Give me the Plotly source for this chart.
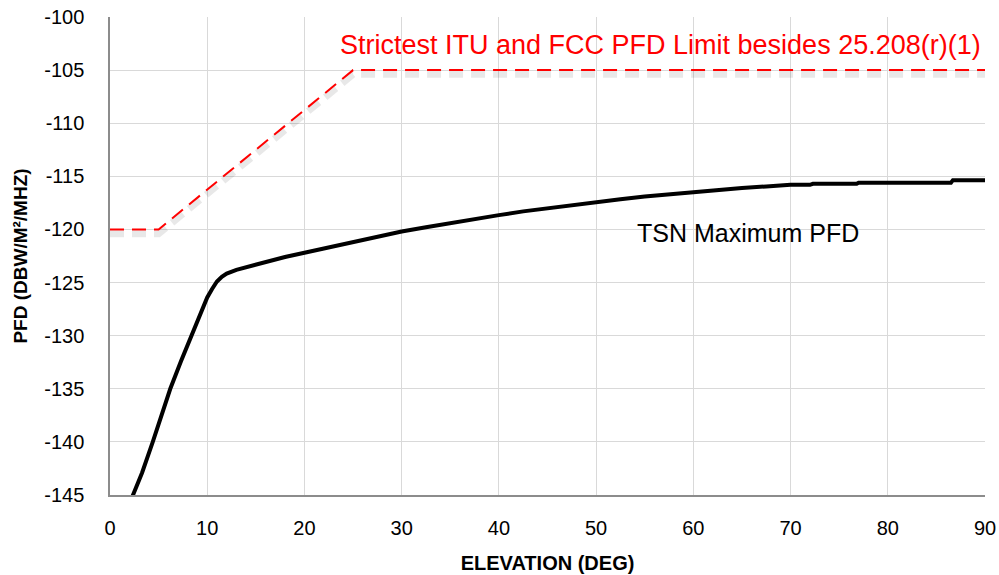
import plotly.graph_objects as go

# TSN maximum PFD curve (elevation deg, PFD dBW/m^2/MHz)
tsn_elev = [2.1, 3.3, 4.4, 5.3, 6.2, 7.3, 8.4, 9.0, 9.5, 10.0, 10.5, 11.0, 11.5, 12.0,
            13.0, 14.0, 16.0, 18.0, 20.0, 22.5, 25.0, 27.5, 30.0, 32.5, 35.0, 37.5,
            40.0, 42.5, 45.0, 47.5, 50.0, 52.5, 55.0, 57.5, 60.0, 62.5, 65.0, 67.5,
            70.0, 72.0, 72.3, 76.8, 77.0, 86.5, 86.7, 90.0]
tsn_pfd = [-145.6, -142.9, -140.0, -137.5, -135.0, -132.4, -130.0, -128.6, -127.5, -126.4,
           -125.6, -124.9, -124.45, -124.15, -123.8, -123.55, -123.05, -122.6, -122.2,
           -121.7, -121.2, -120.7, -120.2, -119.8, -119.4, -119.0, -118.65, -118.3,
           -118.0, -117.7, -117.4, -117.15, -116.9, -116.7, -116.45, -116.25, -116.1,
           -115.95, -115.8, -115.8, -115.7, -115.7, -115.6, -115.6, -115.36, -115.36]

# Strictest ITU and FCC PFD limit
lim_elev = [0, 5, 25, 90]
lim_pfd = [-120, -120, -105, -105]

x_ticks = [0, 10, 20, 30, 40, 50, 60, 70, 80, 90]
y_ticks = [-100, -105, -110, -115, -120, -125, -130, -135, -140, -145]

fig = go.Figure()

# soft shadow under the red dashed limit line
fig.add_trace(go.Scatter(x=lim_elev, y=[v - 0.4 for v in lim_pfd], mode="lines",
                         line=dict(color="rgba(0,0,0,0.09)", width=7, dash="14px,8px"),
                         hoverinfo="skip", showlegend=False))
fig.add_trace(go.Scatter(x=lim_elev, y=lim_pfd, mode="lines",
                         line=dict(color="#ff0000", width=2, dash="14px,8px"),
                         name="Strictest ITU and FCC PFD Limit", showlegend=False))
fig.add_trace(go.Scatter(x=tsn_elev, y=tsn_pfd, mode="lines",
                         line=dict(color="#000000", width=4),
                         name="TSN Maximum PFD", showlegend=False))

fig.add_annotation(x=56.6, y=-102.6, xref="x", yref="y",
                   text="Strictest ITU and FCC PFD Limit besides 25.208(r)(1)",
                   showarrow=False, font=dict(family="Liberation Sans, Arial", size=27, color="#ff0000"))
fig.add_annotation(x=65.6, y=-120.3, xref="x", yref="y",
                   text="TSN Maximum PFD",
                   showarrow=False, font=dict(family="Liberation Sans, Arial", size=25, color="#000000"))

fig.update_layout(
    width=999, height=575,
    margin=dict(l=110, r=14, t=17, b=80),
    paper_bgcolor="white", plot_bgcolor="white",
    font=dict(family="Liberation Sans, Arial", color="#000000"),
    xaxis=dict(range=[0, 90], tickvals=x_ticks, ticktext=[str(v) for v in x_ticks],
               showgrid=True, gridcolor="#d9d9d9", gridwidth=1,
               showline=True, linecolor="#8c8c8c", linewidth=1.5,
               ticks="", zeroline=False, tickfont=dict(size=20),
               ticklabelstandoff=14,
               title=dict(text="<b>ELEVATION (DEG)</b>", font=dict(size=20), standoff=18),
               automargin=False),
    yaxis=dict(range=[-145, -100], tickvals=y_ticks, ticktext=[str(v) for v in y_ticks],
               showgrid=True, gridcolor="#d9d9d9", gridwidth=1,
               showline=True, linecolor="#8c8c8c", linewidth=1.5,
               ticks="", zeroline=False, tickfont=dict(size=20),
               ticklabelstandoff=20,
               title=dict(text="<b>PFD (DBW/M²/MHZ)</b>", font=dict(size=19), standoff=12),
               automargin=False),
)

fig.write_html("out.html")
